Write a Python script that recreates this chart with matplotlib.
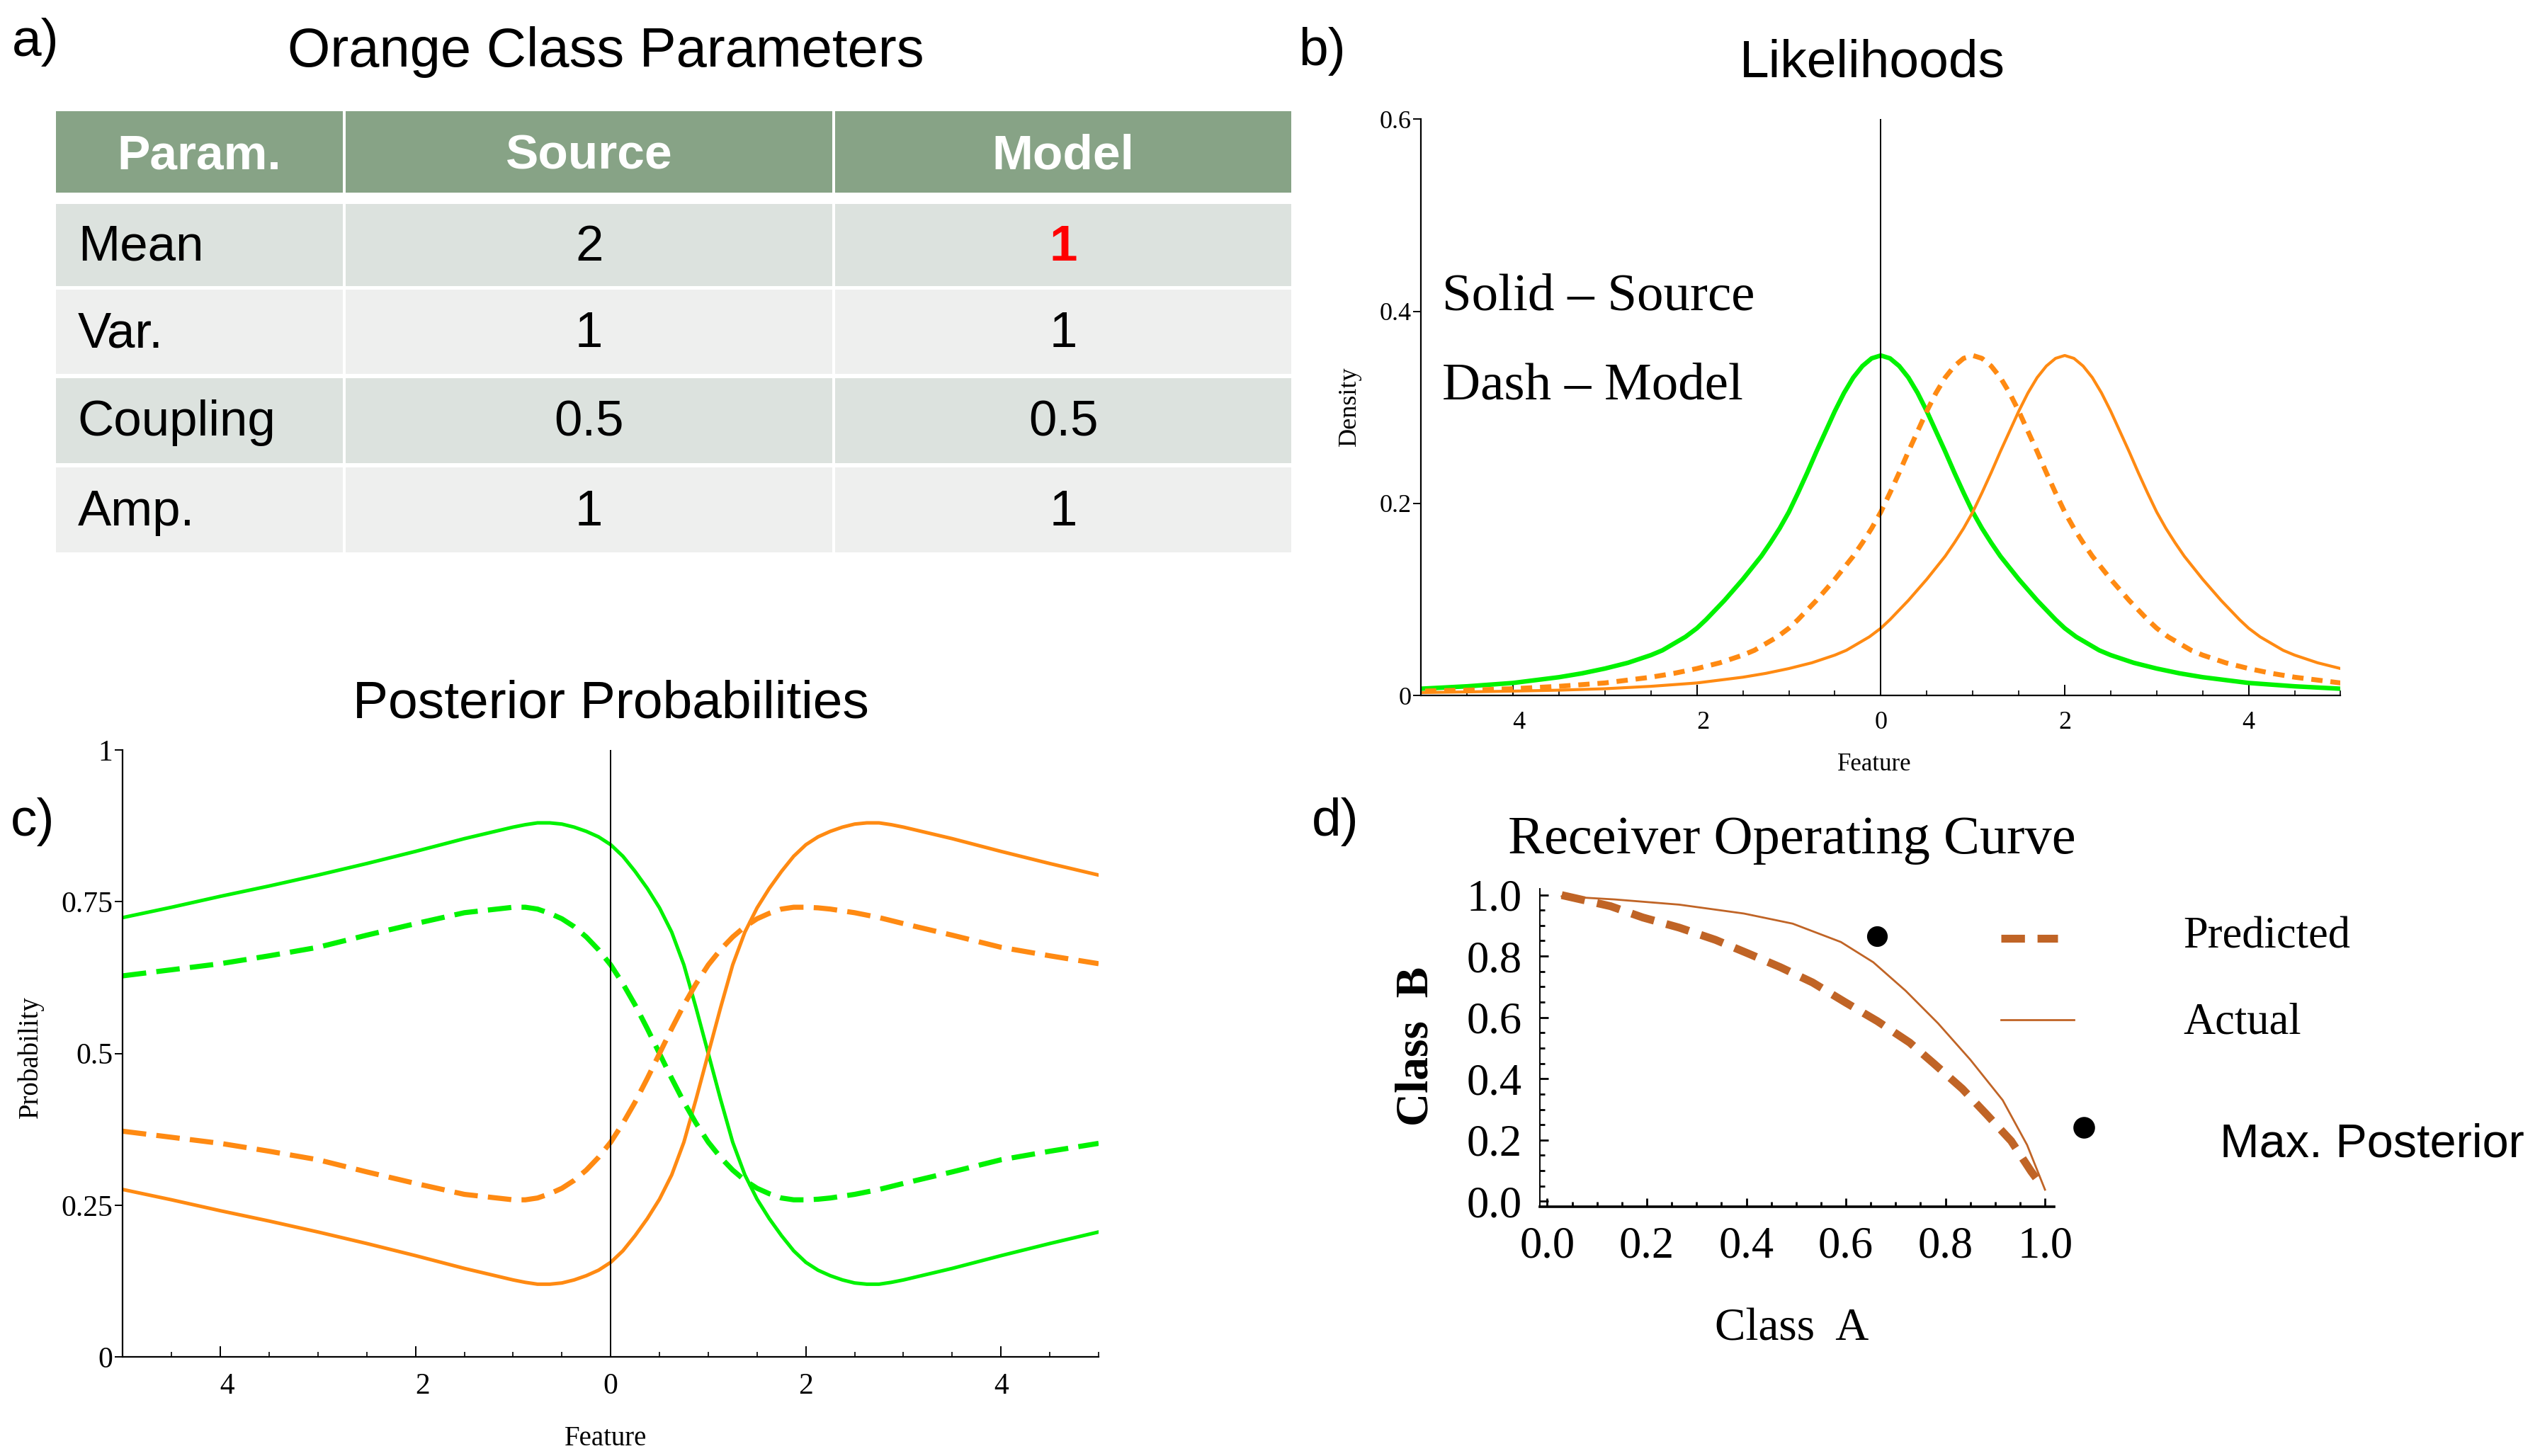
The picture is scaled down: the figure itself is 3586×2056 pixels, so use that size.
import matplotlib
matplotlib.use('Agg')
import matplotlib.pyplot as plt
from matplotlib.patches import Rectangle
from matplotlib.ticker import FixedLocator, MultipleLocator
import numpy as np

SANS = ['Liberation Sans', 'DejaVu Sans']
SERIF = ['Liberation Serif', 'DejaVu Serif']
plt.rcParams['font.family'] = SERIF

GREEN = '#00F200'
ORANGE = '#FF8A12'
BROWN = '#C06426'

# a) parameter table
table_cols = ['Param.', 'Source', 'Model']
table_params = ['Mean', 'Var.', 'Coupling', 'Amp.']
table_source = ['2', '1', '0.5', '1']
table_model = ['1', '1', '0.5', '1']

# b) likelihoods: one symmetric density profile, centred on each mean
green_mean = 0
density_offset = [0, 0.1, 0.2, 0.3, 0.4, 0.5, 0.6, 0.7, 0.8, 0.9, 1.0, 1.1, 1.2, 1.3, 1.4,
                  1.5, 1.6, 1.7, 1.8, 1.9, 2.0, 2.125, 2.25, 2.375, 2.5, 2.625, 2.75, 2.875,
                  3.0, 3.25, 3.5, 3.75, 4.0, 4.5, 5.0, 5.5, 6.0, 6.5, 7.0]
density_profile = [0.354, 0.351, 0.343, 0.331, 0.315, 0.296, 0.275, 0.254, 0.232, 0.211,
                   0.191, 0.174, 0.159, 0.145, 0.133, 0.121, 0.110, 0.099, 0.089, 0.079,
                   0.070, 0.061, 0.054, 0.047, 0.042, 0.038, 0.034, 0.031,
                   0.028, 0.023, 0.019, 0.016, 0.013, 0.0095, 0.007, 0.0055, 0.0045,
                   0.0037, 0.003]

# c) posterior probabilities
feature = [-5, -4.5, -4, -3.5, -3, -2.5, -2, -1.5,
           -1, -0.875, -0.75, -0.625, -0.5, -0.375, -0.25, -0.125,
           0, 0.125, 0.25, 0.375, 0.5, 0.625, 0.75, 0.875,
           1, 1.125, 1.25, 1.375, 1.5, 1.625, 1.75, 1.875,
           2, 2.125, 2.25, 2.375, 2.5, 2.625, 2.75, 2.875,
           3, 3.5, 4, 4.5, 5]
green_post_source = [0.724, 0.741, 0.759, 0.776, 0.794, 0.813, 0.833, 0.854,
                     0.873, 0.877, 0.880, 0.880, 0.878, 0.873, 0.866, 0.857,
                     0.844, 0.825, 0.800, 0.772, 0.740, 0.700, 0.646, 0.575,
                     0.500, 0.425, 0.354, 0.300, 0.260, 0.228, 0.200, 0.175,
                     0.156, 0.143, 0.134, 0.127, 0.122, 0.120, 0.120, 0.123,
                     0.127, 0.146, 0.167, 0.187, 0.206]
orange_post_source = [0.276, 0.259, 0.241, 0.224, 0.206, 0.187, 0.167, 0.146,
                      0.127, 0.123, 0.120, 0.120, 0.122, 0.127, 0.134, 0.143,
                      0.156, 0.175, 0.200, 0.228, 0.260, 0.300, 0.354, 0.425,
                      0.500, 0.575, 0.646, 0.700, 0.740, 0.772, 0.800, 0.825,
                      0.844, 0.857, 0.866, 0.873, 0.878, 0.880, 0.880, 0.877,
                      0.873, 0.854, 0.833, 0.813, 0.794]
green_post_model = [0.628, 0.638, 0.648, 0.661, 0.675, 0.695, 0.714, 0.732,
                    0.741, 0.741, 0.738, 0.731, 0.722, 0.709, 0.692, 0.671,
                    0.646, 0.615, 0.580, 0.541, 0.500, 0.459, 0.420, 0.385,
                    0.354, 0.329, 0.308, 0.291, 0.278, 0.269, 0.262, 0.259,
                    0.259, 0.260, 0.262, 0.265, 0.268, 0.272, 0.276, 0.281,
                    0.286, 0.305, 0.325, 0.339, 0.352]
orange_post_model = [0.372, 0.362, 0.352, 0.339, 0.325, 0.305, 0.286, 0.268,
                     0.259, 0.259, 0.262, 0.269, 0.278, 0.291, 0.308, 0.329,
                     0.354, 0.385, 0.420, 0.459, 0.500, 0.541, 0.580, 0.615,
                     0.646, 0.671, 0.692, 0.709, 0.722, 0.731, 0.738, 0.741,
                     0.741, 0.740, 0.738, 0.735, 0.732, 0.728, 0.724, 0.719,
                     0.714, 0.695, 0.675, 0.661, 0.648]

# d) ROC
pred_a = [0.029, 0.127, 0.192, 0.265, 0.338, 0.403, 0.468, 0.533, 0.598, 0.663, 0.728,
          0.777, 0.834, 0.883, 0.932, 0.972, 0.993]
pred_b = [0.999, 0.963, 0.926, 0.893, 0.853, 0.809, 0.764, 0.714, 0.650, 0.588, 0.518,
          0.449, 0.367, 0.283, 0.197, 0.098, 0.052]
act_a = [0.029, 0.135, 0.265, 0.395, 0.493, 0.590, 0.655, 0.720, 0.785, 0.850, 0.915,
         0.964, 1.0]
act_b = [0.995, 0.985, 0.968, 0.939, 0.906, 0.846, 0.780, 0.687, 0.581, 0.462, 0.330,
         0.184, 0.038]
maxpost_a = [0.663]
maxpost_b = [0.866]

# layout units = reference pixels / 2.2876
W, H = 1568.0, 898.8
DY = 2.5  # text baseline nudge


def box(l, t, r, b):
    return [l / W, 1 - b / H, (r - l) / W, (b - t) / H]


fig = plt.figure(figsize=(17.935, 10.28), dpi=200)
bg = fig.add_axes([0, 0, 1, 1])
bg.set_xlim(0, W)
bg.set_ylim(H, 0)
bg.axis('off')

# ---- a) table
bg.text(21.8, 23.6 + DY, 'a)', family=SANS, fontsize=27, ha='center', va='center')
bg.text(374, 29.7 + DY, 'Orange Class Parameters', family=SANS, fontsize=28, ha='center', va='center')

col_edges = [33.6, 212.5, 514.6, 797.8]
header_rows = (68.7, 119.0)
body_rows = [(126.0, 176.6), (179.0, 231.0), (233.4, 286.0), (288.6, 341.0)]
row_colors = ['#DCE2DE', '#EEEFEE']

for j, name in enumerate(table_cols):
    l, r = col_edges[j] + 0.9, col_edges[j + 1] - 0.9
    t, b = header_rows
    bg.add_patch(Rectangle((l, t), r - l, b - t, color='#87A386', lw=0))
    bg.text((col_edges[j] + col_edges[j + 1]) / 2, (t + b) / 2 + DY, name, family=SANS,
            fontsize=25, weight='bold', color='white', ha='center', va='center')

for i, pname in enumerate(table_params):
    t, b = body_rows[i]
    for j in range(3):
        l, r = col_edges[j] + 0.9, col_edges[j + 1] - 0.9
        bg.add_patch(Rectangle((l, t), r - l, b - t, color=row_colors[i % 2], lw=0))
    yc = (t + b) / 2 + 1.5
    bg.text(48, yc, pname, family=SANS, fontsize=25.5, ha='left', va='center')
    bg.text((col_edges[1] + col_edges[2]) / 2, yc, table_source[i], family=SANS,
            fontsize=25.5, ha='center', va='center')
    if pname == 'Mean':
        bg.text((col_edges[2] + col_edges[3]) / 2, yc, table_model[i], family=SANS,
                fontsize=25.5, weight='bold', color='#FF0000', ha='center', va='center')
    else:
        bg.text((col_edges[2] + col_edges[3]) / 2, yc, table_model[i], family=SANS,
                fontsize=25.5, ha='center', va='center')

# ---- b) likelihoods
bg.text(815.8, 29 + DY, 'b)', family=SANS, fontsize=27, ha='center', va='center')
bg.text(1155.5, 36.2 + DY, 'Likelihoods', family=SANS, fontsize=27, ha='center', va='center')
bg.text(832.9, 251, 'Density', fontsize=13, rotation=90, ha='center', va='center')
bg.text(1156.7, 470.8 + 1, 'Feature', fontsize=12.5, ha='center', va='center')
bg.text(890, 181 + DY, 'Solid \u2013 Source', fontsize=27, ha='left', va='center')
bg.text(890, 236 + DY, 'Dash \u2013 Model', fontsize=27, ha='left', va='center')

off = np.array(density_offset)
prof = np.array(density_profile)
full_off = np.concatenate([-off[::-1], off[1:]])
full_prof = np.concatenate([prof[::-1], prof[1:]])

axb = fig.add_axes(box(877, 73.6, 1444.5, 429.3))
axb.patch.set_visible(False)
axb.plot(green_mean + full_off, full_prof, color=GREEN, lw=2.3)
axb.plot(float(table_model[0]) + full_off, full_prof, color=ORANGE, lw=2.5, dashes=(2.3, 1.6))
axb.plot(float(table_source[0]) + full_off, full_prof, color=ORANGE, lw=1.5)
axb.axvline(0, color='black', lw=0.7)
axb.set_xlim(-5, 5)
axb.set_ylim(0, 0.6)

# ---- c) posteriors
bg.text(20, 504.7 + DY, 'c)', family=SANS, fontsize=27, ha='center', va='center')
bg.text(377, 432 + DY, 'Posterior Probabilities', family=SANS, fontsize=27, ha='center', va='center')
bg.text(18.7, 652.6, 'Probability', fontsize=14, rotation=90, ha='center', va='center')
bg.text(373.8, 887 + 1, 'Feature', fontsize=14, ha='center', va='center')

axc = fig.add_axes(box(75.8, 463, 678, 837.7))
axc.patch.set_visible(False)
axc.plot(feature, green_post_source, color=GREEN, lw=1.8)
axc.plot(feature, orange_post_source, color=ORANGE, lw=1.8)
axc.plot(feature, green_post_model, color=GREEN, lw=2.6, dashes=(4.6, 2.0))
axc.plot(feature, orange_post_model, color=ORANGE, lw=2.6, dashes=(4.6, 2.0))
axc.axvline(0, color='black', lw=0.7)
axc.set_xlim(-5, 5)
axc.set_ylim(0, 1)

for ax, lsize in [(axb, 13), (axc, 15)]:
    for s in ['top', 'right']:
        ax.spines[s].set_visible(False)
    for s in ['left', 'bottom']:
        ax.spines[s].set_linewidth(0.8)
    ax.xaxis.set_major_locator(FixedLocator([-4, -2, 0, 2, 4]))
    ax.set_xticklabels(['\u20024', '\u20022', '0', '2', '4'])
    ax.xaxis.set_minor_locator(MultipleLocator(0.5))
    ax.tick_params(axis='x', which='major', direction='in', length=5.5, width=0.7,
                   labelsize=lsize, pad=8)
    ax.tick_params(axis='x', which='minor', direction='in', length=2.6, width=0.6)
    ax.tick_params(axis='y', which='major', direction='out', length=4, width=0.7,
                   labelsize=lsize, pad=1)

axb.set_yticks([0, 0.2, 0.4, 0.6])
axb.set_yticklabels(['0', '0.2', '0.4', '0.6'])
axc.set_yticks([0, 0.25, 0.5, 0.75, 1])
axc.set_yticklabels(['0', '0.25', '0.5', '0.75', '1'])

# ---- d) ROC
bg.text(824, 505 + DY, 'd)', family=SANS, fontsize=27, ha='center', va='center')
bg.text(1106, 516 + DY, 'Receiver Operating Curve', fontsize=27.5, ha='center', va='center')
bg.text(874, 646, 'Class  B', fontsize=23.5, weight='bold', rotation=90, ha='center', va='center')
bg.text(1106, 818 + DY, 'Class  A', fontsize=23.5, ha='center', va='center')

axd = fig.add_axes(box(950.3, 548.6, 1267.6, 744.8))
axd.patch.set_visible(False)
axd.plot(pred_a, pred_b, color=BROWN, lw=4, dashes=(3.0, 1.6))
axd.plot(act_a, act_b, color=BROWN, lw=1.0)
axd.plot(maxpost_a, maxpost_b, 'o', color='black', ms=9.5)
axd.set_xlim(-0.015, 1.018)
axd.set_ylim(-0.017, 1.02)
for s in ['top', 'right']:
    axd.spines[s].set_visible(False)
axd.spines['left'].set_linewidth(0.7)
axd.spines['bottom'].set_linewidth(1.3)
ticks = [0, 0.2, 0.4, 0.6, 0.8, 1.0]
axd.set_xticks(ticks)
axd.set_yticks(ticks)
axd.set_xticklabels(['%.1f' % t for t in ticks])
axd.set_yticklabels(['%.1f' % t for t in ticks])
axd.xaxis.set_minor_locator(MultipleLocator(0.05))
axd.yaxis.set_minor_locator(MultipleLocator(0.05))
axd.tick_params(which='major', direction='in', length=4.4, width=1.0, labelsize=22.5)
axd.tick_params(which='minor', direction='in', length=2.6, width=1.0)
axd.tick_params(axis='x', pad=10)
axd.tick_params(axis='y', pad=9)

# legend for d
bg.plot([1235, 1270], [579.3, 579.3], color=BROWN, lw=4, dashes=(3.0, 1.6))
bg.text(1347.3, 576 + DY, 'Predicted', fontsize=22.5, ha='left', va='center')
bg.plot([1235, 1280], [629.7, 629.7], color=BROWN, lw=1.0)
bg.text(1347.3, 629 + DY, 'Actual', fontsize=22.5, ha='left', va='center')
bg.plot([1286], [696], 'o', color='black', ms=10)
bg.text(1369.8, 704.3 + DY, 'Max. Posterior', family=SANS, fontsize=24, ha='left', va='center')

fig.savefig('out.png', dpi=200)
